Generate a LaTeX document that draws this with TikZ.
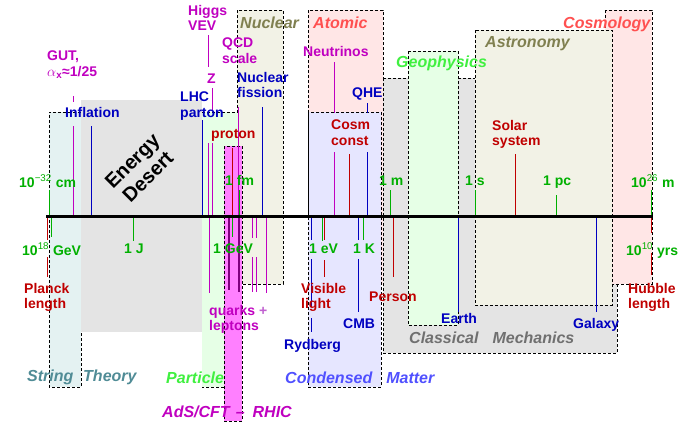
\documentclass[tikz,border=0pt]{standalone}
\usepackage{fontspec}
\setmainfont{Liberation Sans}
\definecolor{dred}{HTML}{C00000}
\definecolor{dblue}{HTML}{0000C0}
\definecolor{dmag}{HTML}{C000C0}
\definecolor{dpur}{HTML}{800080}
\definecolor{dgreen}{HTML}{00B000}
\definecolor{cyanfill}{HTML}{E4F2F2}
\definecolor{grayfill}{HTML}{E4E4E4}
\definecolor{greenfill}{HTML}{E6FFE6}
\definecolor{beigefill}{HTML}{F2F2E6}
\definecolor{pinkfill}{HTML}{FFE6E6}
\definecolor{lavfill}{HTML}{E6E6FF}
\definecolor{adsfill}{HTML}{FF80FF}
\definecolor{olivec}{HTML}{808050}
\definecolor{salmonc}{HTML}{FF5050}
\definecolor{brightgreen}{HTML}{40F040}
\definecolor{condblue}{HTML}{5050FF}
\definecolor{classgray}{HTML}{707070}
\definecolor{stringcol}{HTML}{508C96}
\definecolor{lightmag}{HTML}{C060D0}
\begin{document}
\begin{tikzpicture}[x=1pt,y=-1pt,
  lab/.style={font=\fontsize{14}{15.5}\selectfont\bfseries, inner sep=0pt, align=left},
  reg/.style={font=\fontsize{16}{18}\selectfont\bfseries\itshape, inner sep=0pt},
  box/.style={draw=black, dash pattern=on 3pt off 2pt, line width=0.8pt},
  tk/.style={line width=1pt}]
\useasboundingbox (0,0) rectangle (700,432);
\fill[white] (0,0) rectangle (700,432);
% ---------- regions ----------
\fill[cyanfill] (49,112) rectangle (81,387);
\draw[box] (81,112) -- (49,112) -- (49,387) -- (81,387) -- (81,332);
\fill[grayfill] (81,100) rectangle (202,332);
\fill[beigefill] (237,10) rectangle (283,284);
\draw[box] (237,10) rectangle (283,284);
\fill[greenfill] (202,112) rectangle (238,387);
\draw[box] (202,112) -- (238,112) -- (238,387) -- (202,387);
\fill[adsfill] (224,146) rectangle (242,421);
\draw[box] (224,146) rectangle (242,421);
\fill[pinkfill] (308,10) rectangle (383,285);
\draw[box] (308,10) rectangle (383,285);
\fill[lavfill] (308,112) rectangle (381,387);
\draw[box] (308,112) rectangle (381,387);
\fill[grayfill] (383,78) rectangle (617,353);
\draw[box] (383,78) rectangle (617,353);
\fill[greenfill] (408,51) rectangle (458,325);
\draw[box] (408,51) rectangle (458,325);
\fill[pinkfill] (605,10) rectangle (652,284);
\draw[box] (605,10) rectangle (652,284);
\fill[beigefill] (475,30) rectangle (612,305);
\draw[box] (475,30) rectangle (612,305);
% ---------- ticks above axis ----------
\draw[tk,dgreen] (49,190) -- (49,216);
\draw[tk,dmag] (73,96) -- (73,102) (73,126) -- (73,216);
\draw[tk,dblue] (91,126) -- (91,216);
\draw[tk,dblue] (202,120) -- (202,216);
\draw[tk,dmag] (208,35) -- (208,67) (208,143) -- (208,216);
\draw[tk,dmag] (212,88) -- (212,110) (212,143) -- (212,216);
\draw[tk,dred] (232,148) -- (232,216);
\draw[tk,dmag] (238,107) -- (238,216);
\draw[tk,dgreen] (239.5,190) -- (239.5,216);
\draw[tk,dblue] (262,107) -- (262,216);
\draw[line width=1pt,black] (308,112) -- (308,216);
\draw[tk,dmag] (334,62) -- (334,113) (334,152) -- (334,216);
\draw[tk,dred] (349,154) -- (349,216);
\draw[tk,dblue] (367,103) -- (367,113) (367,152) -- (367,216);
\draw[tk,dgreen] (390,190) -- (390,216);
\draw[tk,dgreen] (475,190) -- (475,216);
\draw[tk,dred] (515,154) -- (515,216);
\draw[tk,dgreen] (556,195) -- (556,216);
\draw[tk,dgreen] (651,190) -- (651,216);
% ---------- ticks below axis ----------
\draw[tk,dred] (47,216) -- (47,240) (47,257) -- (47,277);
\draw[tk,dgreen] (51,216) -- (51,237);
\draw[tk,dgreen] (133,216) -- (133,241);
\draw[tk,dmag] (209,216) -- (209,293);
\draw[line width=1.6pt,dpur] (229,216) -- (229,290);
\draw[tk,dgreen] (232,216) -- (232,237);
\draw[line width=1.3pt,dpur] (239,216) -- (239,292);
\draw[tk,dmag] (252,216) -- (252,238) (252,257) -- (252,292);
\draw[tk,dmag] (256,216) -- (256,238) (256,257) -- (256,292);
\draw[tk,dmag] (266,216) -- (266,293);
\draw[tk,dblue] (311,216) -- (311,240) (311,259) -- (311,307) (311,318) -- (311,332);
\draw[tk,dgreen] (322,216) -- (322,241);
\draw[tk,dred] (324,216) -- (324,240) (324,260) -- (324,277);
\draw[tk,dblue] (358,216) -- (358,240) (358,259) -- (358,312);
\draw[tk,dgreen] (363,216) -- (363,240);
\draw[tk,dred] (393,216) -- (393,277);
\draw[tk,dblue] (458,216) -- (458,312);
\draw[tk,dblue] (596,216) -- (596,312);
\draw[tk,dred] (651,216) -- (651,233) (651,253) -- (651,275);
% ---------- axis ----------
\coordinate (axL) at (46,216);
\coordinate (axR) at (653,216);
\draw[line width=3pt,black] (axL) -- (axR);
% ---------- region labels ----------
\node[reg,olivec,anchor=base west] (nuc) at (240,28) {Nuclear};
\node[reg,salmonc,anchor=base west] (atom) at (313,28) {Atomic};
\node[reg,salmonc,anchor=base west] (cosmo) at (563,28) {Cosmology};
\node[reg,olivec,anchor=base west] (astro) at (485,47) {Astronomy};
\node[reg,brightgreen,anchor=base west] (geo) at (396,67) {Geophysics};
\node[reg,stringcol,anchor=base west] (str1) at (27,381) {String};
\node[reg,stringcol,anchor=base west] (str2) at (83,381) {Theory};
\node[reg,brightgreen,anchor=base west] (part) at (166,383) {Particle};
\node[reg,dmag,anchor=base west] (ads) at (162,417) {AdS/CFT\hskip 6pt–\hskip 8pt RHIC};
\node[reg,condblue,anchor=base west] (cond) at (285,383.5) {Condensed\hskip 14pt Matter};
\node[reg,classgray,anchor=base west] (class) at (409,343) {Classical\hskip 14pt Mechanics};
\node[font=\fontsize{20}{22}\selectfont\bfseries, align=center, rotate=45, inner sep=0pt] (desert) at (140,169) {Energy\\Desert};
% ---------- labels above ----------
\node[lab,dmag,anchor=north west] (gut) at (47,51) {GUT,\\$\alpha$\textsubscript{x}≈1/25};
\node[lab,dmag,anchor=north west] (higgs) at (188,5) {Higgs\\VEV};
\node[lab,dmag,anchor=north west] (qcd) at (222,38) {QCD\\scale};
\node[lab,dmag,anchor=base west] (z) at (207,83) {Z};
\node[lab,dblue,anchor=north west] (lhc) at (180,92) {LHC\\parton};
\node[lab,dblue,anchor=north west] (fission) at (237,72) {Nuclear\\fission};
\node[lab,dmag,anchor=base west] (neut) at (303,56) {Neutrinos};
\node[lab,dblue,anchor=base west] (qhe) at (352,97) {QHE};
\node[lab,dred,anchor=north west] (cosm) at (331,120) {Cosm\\const};
\node[lab,dred,anchor=north west] (solar) at (492,120) {Solar\\system};
\node[lab,dblue,anchor=base west] (infl) at (65,117) {Inflation};
\node[lab,dred,anchor=base west] (proton) at (211,138) {proton};
% ---------- scale labels ----------
\node[lab,dgreen,anchor=base west] (cm) at (19,187) {10\textsuperscript{\mdseries −32} cm};
\node[lab,dgreen,anchor=base west] (fm) at (225,185) {1 fm};
\node[lab,dgreen,anchor=base west] (m1) at (379,185) {1 m};
\node[lab,dgreen,anchor=base west] (s1) at (465,185) {1 s};
\node[lab,dgreen,anchor=base west] (pc) at (543,185) {1 pc};
\node[lab,dgreen,anchor=base west] (m26) at (631,187) {10\textsuperscript{\mdseries 26} m};
\node[lab,dgreen,anchor=base west] (gev18) at (22,255) {10\textsuperscript{\mdseries 18} GeV};
\node[lab,dgreen,anchor=base west] (joule) at (124,253) {1 J};
\node[lab,dgreen,anchor=base west] (gev) at (213,253) {1 GeV};
\node[lab,dgreen,anchor=base west] (ev) at (309,253) {1 eV};
\node[lab,dgreen,anchor=base west] (kelvin) at (353,253) {1 K};
\node[lab,dgreen,anchor=base west] (yrs) at (626,255) {10\textsuperscript{\mdseries 10} yrs};
% ---------- labels below ----------
\node[lab,dred,anchor=north west] (planck) at (24,283) {Planck\\length};
\node[lab,dmag,anchor=north west] (quarks) at (209,305) {quarks \textcolor{lightmag}{+}\\leptons};
\node[lab,dred,anchor=north west] (visible) at (301,283) {Visible\\light};
\node[lab,dred,anchor=base west] (person) at (369,301) {Person};
\node[lab,dblue,anchor=base west] (cmb) at (343,328) {CMB};
\node[lab,dblue,anchor=base west] (ryd) at (284,349) {Rydberg};
\node[lab,dblue,anchor=base west] (earth) at (441,323) {Earth};
\node[lab,dblue,anchor=base west] (galaxy) at (573,328) {Galaxy};
\node[lab,dred,anchor=north west] (hubble) at (628,283) {Hubble\\length};
\end{tikzpicture}
\end{document}
